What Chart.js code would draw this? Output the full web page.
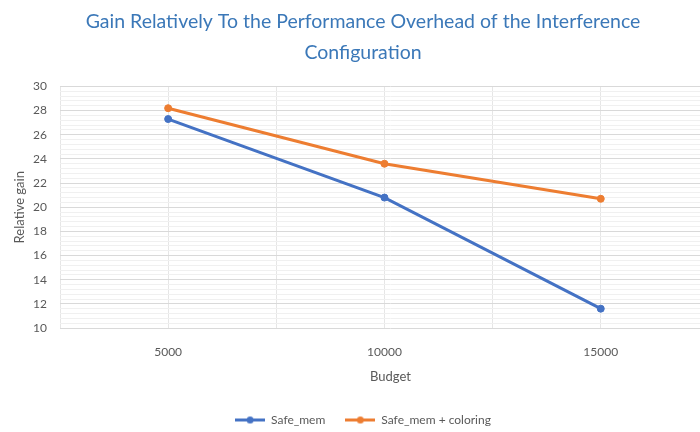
<!DOCTYPE html>
<html>
<head>
<meta charset="utf-8">
<script src="https://cdn.jsdelivr.net/npm/chart.js@4"></script>
<style>
  html, body { margin: 0; padding: 0; background: #fff; overflow: hidden; }
  #wrap { width: 726px; height: 432px; }
</style>
</head>
<body>
<div id="wrap"><canvas id="chart" width="726" height="432"></canvas></div>
<script>
// Budgets on the x axis and the relative gain for each configuration
const budgets = [5000, 10000, 15000];
const safeMem = [27.3, 20.8, 11.6];
const safeMemColoring = [28.2, 23.6, 20.7];
const seriesNames = ['Safe_mem', 'Safe_mem + coloring'];

const BLUE = '#4472C4';
const ORANGE = '#ED7D31';
const FONT = 'Lato, "Open Sans", sans-serif';
const GREY = '#595959';

// Legend swatch: short line with a dot, like the series style
function swatch(color) {
  const c = document.createElement('canvas');
  c.width = 30; c.height = 9;
  const g = c.getContext('2d');
  g.strokeStyle = color; g.lineWidth = 3;
  g.beginPath(); g.moveTo(0, 4.5); g.lineTo(30, 4.5); g.stroke();
  g.fillStyle = color;
  g.beginPath(); g.arc(15, 4.5, 3.5, 0, Math.PI * 2); g.fill();
  return c;
}

function toPoints(values) {
  return budgets.map((b, i) => ({ x: b, y: values[i] }));
}

const isMultiple = (v, m) => Math.abs(v / m - Math.round(v / m)) < 1e-6;

new Chart(document.getElementById('chart'), {
  type: 'line',
  data: {
    datasets: [
      {
        label: seriesNames[0],
        data: toPoints(safeMem),
        borderColor: BLUE, backgroundColor: BLUE,
        borderWidth: 3, pointRadius: 3.5, pointBorderWidth: 1, pointHoverRadius: 3.5
      },
      {
        label: seriesNames[1],
        data: toPoints(safeMemColoring),
        borderColor: ORANGE, backgroundColor: ORANGE,
        borderWidth: 3, pointRadius: 3.5, pointBorderWidth: 1, pointHoverRadius: 3.5
      }
    ]
  },
  options: {
    responsive: false,
    animation: false,
    layout: { padding: { left: 0, right: 0, top: 0, bottom: -4 } },
    elements: { point: { pointStyle: 'circle' }, line: { tension: 0 } },
    plugins: {
      title: {
        display: true,
        text: ['Gain Relatively To the Performance Overhead of the Interference', 'Configuration'],
        color: '#3B78B8',
        font: { family: FONT, size: 19.5, weight: 'normal', lineHeight: 1.55 },
        padding: { top: 7, bottom: 19 }
      },
      legend: {
        position: 'bottom',
        labels: {
          usePointStyle: true,
          pointStyleWidth: 30,
          padding: 20,
          color: GREY,
          font: { family: FONT, size: 12 },
          generateLabels(chart) {
            return chart.data.datasets.map((ds, i) => ({
              text: ds.label,
              fillStyle: ds.borderColor,
              strokeStyle: ds.borderColor,
              fontColor: GREY,
              pointStyle: swatch(ds.borderColor),
              lineWidth: 0,
              hidden: false,
              datasetIndex: i
            }));
          }
        }
      },
      tooltip: { enabled: false }
    },
    scales: {
      x: {
        type: 'linear',
        min: 2500, max: 17780,
        afterBuildTicks(scale) {
          const t = [];
          for (let v = 2500; v <= 17500; v += 2500) t.push({ value: v });
          scale.ticks = t;
        },
        ticks: {
          autoSkip: false, maxRotation: 0, padding: 17,
          color: GREY, font: { family: FONT, size: 12 },
          callback: v => (isMultiple(v, 5000) ? String(v) : '')
        },
        grid: { color: '#e6e6e6', lineWidth: 1, drawTicks: false },
        border: { display: false },
        title: {
          display: true, text: 'Budget', color: GREY,
          font: { family: FONT, size: 13 }, padding: { top: -7, bottom: 9 }
        }
      },
      y: {
        min: 10, max: 30,
        afterFit(scale) { scale.width = 60; },
        ticks: {
          stepSize: 0.4, autoSkip: false, padding: 13,
          color: GREY, font: { family: FONT, size: 12 },
          callback: v => (isMultiple(v, 2) ? String(Math.round(v)) : '')
        },
        grid: {
          drawTicks: false,
          color: ctx => (isMultiple(ctx.tick.value, 2) ? '#d9d9d9' : '#f0f0f0'),
          lineWidth: 1
        },
        border: { display: false },
        title: {
          display: true, text: 'Relative gain', color: GREY,
          font: { family: FONT, size: 13 }, padding: { top: 12, bottom: 0 }
        }
      }
    }
  }
});
</script>
</body>
</html>
